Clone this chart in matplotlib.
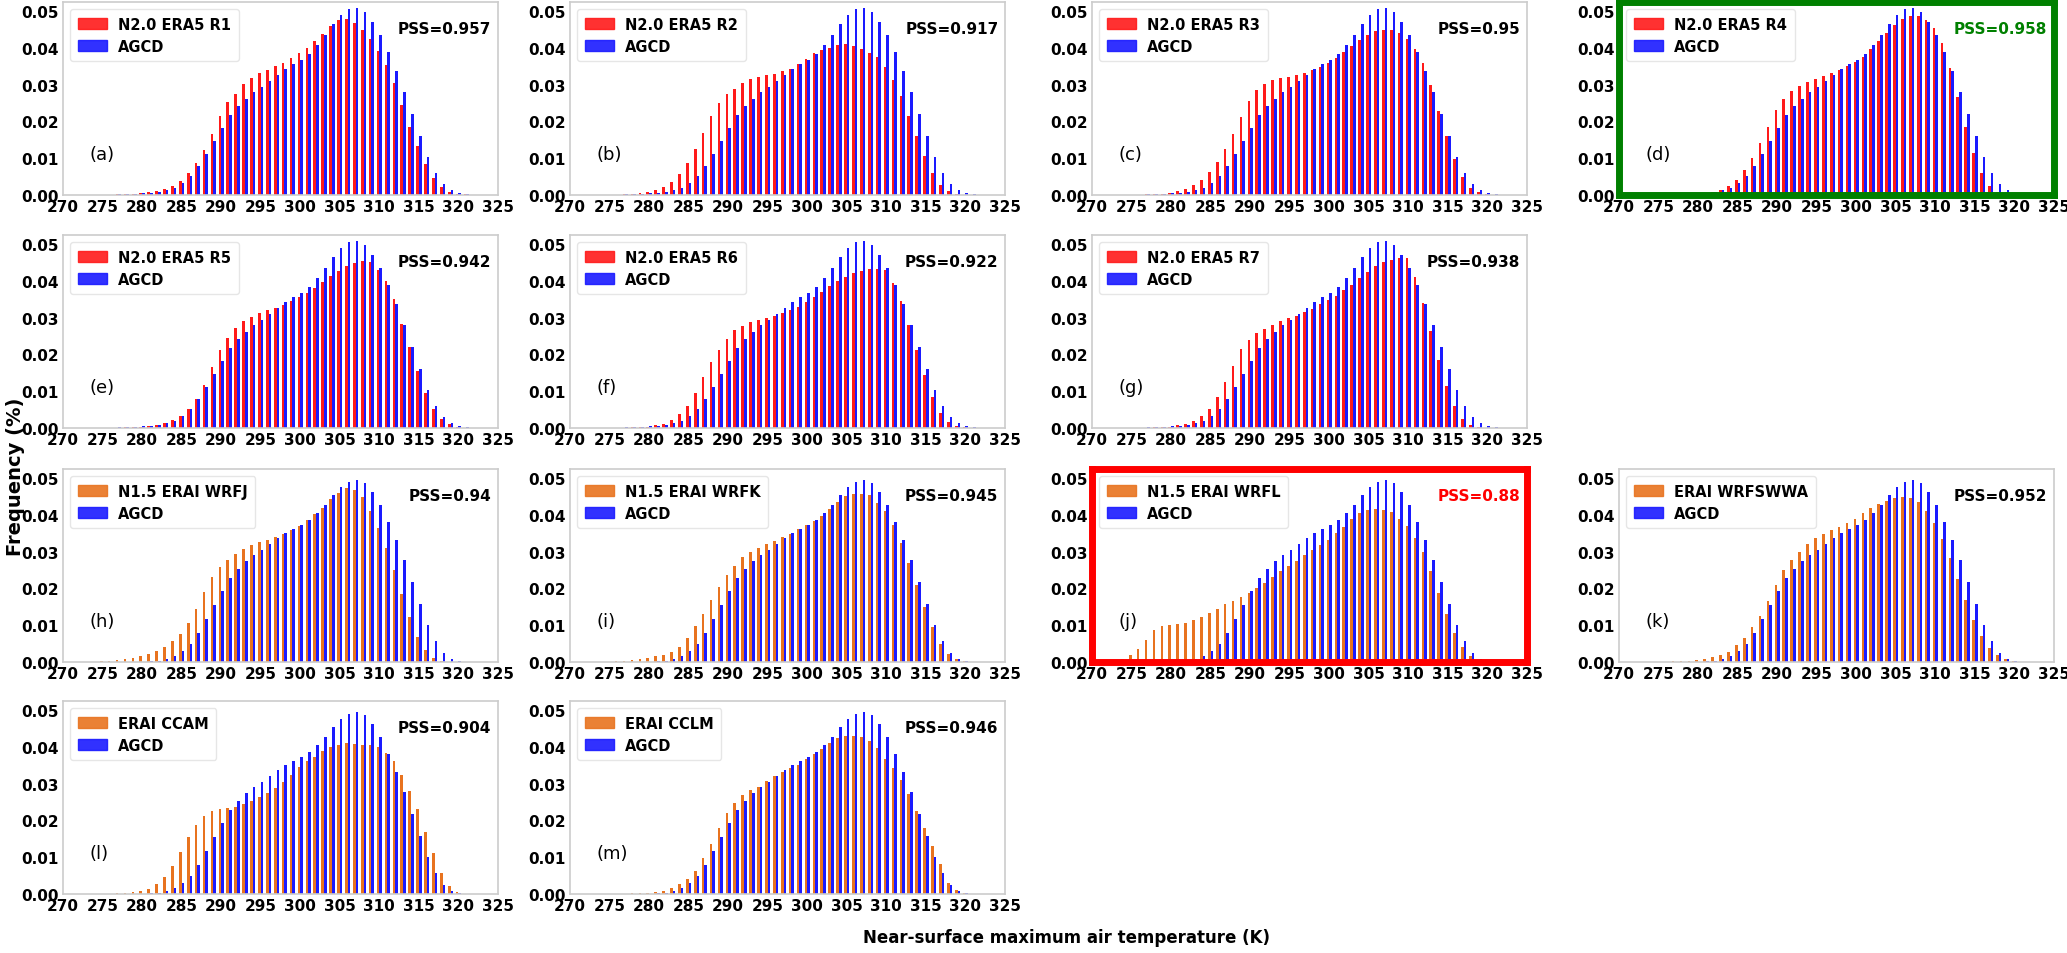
import numpy as np
import matplotlib
matplotlib.use("Agg")
import matplotlib.pyplot as plt
from matplotlib.patches import Patch

# ---------------- data (frequency per 1 K bin, bins centred on 273..321 K) ----------------
temps = list(range(273, 322))

agcd_era5 = [0, 0, 0, 0.0001, 0.0002, 0.0003, 0.0004,
             0.0005, 0.0006, 0.0009, 0.0013, 0.002, 0.0033, 0.0051, 0.0078, 0.0112, 0.0148,
             0.0183, 0.0217, 0.0242, 0.0262, 0.028, 0.0294, 0.0311, 0.0326, 0.0342, 0.0355,
             0.0368, 0.0384, 0.0408, 0.0435, 0.0464, 0.049, 0.0505, 0.051, 0.0498, 0.0471,
             0.0435, 0.0389, 0.0336, 0.0281, 0.0221, 0.016, 0.0103, 0.0059, 0.0029, 0.0013,
             0.0005, 0.0002]

agcd_erai = [0, 0, 0, 0, 0, 0, 0,
             0.0001, 0.0002, 0.0004, 0.0009, 0.0017, 0.0031, 0.005, 0.008, 0.0116, 0.0156,
             0.0193, 0.0229, 0.0254, 0.0275, 0.0292, 0.0306, 0.0322, 0.0336, 0.035, 0.0363,
             0.0374, 0.0386, 0.0405, 0.0428, 0.0454, 0.0475, 0.049, 0.0495, 0.0487, 0.0462,
             0.0427, 0.0382, 0.0332, 0.0277, 0.0217, 0.0157, 0.0102, 0.0056, 0.0025, 0.0007,
             0.0002, 0]

era5_r1 = [0, 0, 0, 0.0001, 0.0002, 0.0003, 0.0004,
           0.0005, 0.0007, 0.001, 0.0016, 0.0025, 0.0039, 0.006, 0.0088, 0.0123, 0.0167,
           0.0214, 0.0253, 0.0276, 0.0301, 0.0317, 0.0331, 0.034, 0.035, 0.036, 0.0373,
           0.0387, 0.0401, 0.0418, 0.0437, 0.0459, 0.0475, 0.0478, 0.0468, 0.0448, 0.0423,
           0.0392, 0.0353, 0.0304, 0.0246, 0.0186, 0.0132, 0.0084, 0.0047, 0.0021, 0.0009,
           0.0004, 0.0002]

era5_r2 = [0, 0, 0, 0.0001, 0.0002, 0.0003, 0.0005,
           0.0007, 0.0013, 0.0022, 0.0035, 0.0057, 0.0087, 0.0125, 0.017, 0.0215, 0.025,
           0.0275, 0.0288, 0.0305, 0.0315, 0.032, 0.0327, 0.033, 0.0336, 0.0343, 0.0355,
           0.037, 0.0385, 0.0395, 0.0401, 0.0408, 0.041, 0.0405, 0.0398, 0.0387, 0.0375,
           0.0348, 0.0312, 0.0268, 0.0215, 0.016, 0.0105, 0.006, 0.0028, 0.0012, 0.0004,
           0.0001, 0]

era5_r3 = [0, 0, 0, 0.0001, 0.0002, 0.0003, 0.0004,
           0.0006, 0.001, 0.0016, 0.0026, 0.004, 0.0062, 0.009, 0.0125, 0.0165, 0.0212,
           0.0255, 0.0285, 0.0302, 0.0312, 0.0318, 0.0322, 0.0327, 0.0333, 0.034, 0.0348,
           0.0358, 0.0372, 0.0388, 0.0405, 0.0422, 0.0435, 0.0445, 0.0449, 0.0449, 0.0442,
           0.0425, 0.0398, 0.0358, 0.0298, 0.0228, 0.016, 0.0098, 0.0048, 0.002, 0.0007,
           0.0002, 0]

era5_r4 = [0, 0, 0, 0, 0, 0, 0.0001,
           0.0002, 0.0003, 0.0007, 0.0013, 0.0025, 0.0042, 0.0067, 0.01, 0.0141, 0.0186,
           0.023, 0.0262, 0.0282, 0.0297, 0.0307, 0.0316, 0.0323, 0.0332, 0.034, 0.035,
           0.0362, 0.0376, 0.0398, 0.042, 0.0441, 0.0463, 0.0479, 0.0488, 0.0488, 0.0477,
           0.0454, 0.0414, 0.0346, 0.0267, 0.0186, 0.0114, 0.0059, 0.0025, 0.0008, 0.0002,
           0, 0]

era5_r5 = [0, 0, 0, 0.0001, 0.0001, 0.0002, 0.0003,
           0.0004, 0.0006, 0.0009, 0.0014, 0.0021, 0.0033, 0.0052, 0.008, 0.0118, 0.0165,
           0.0213, 0.0245, 0.0272, 0.029, 0.0303, 0.0312, 0.032, 0.0327, 0.0335, 0.0345,
           0.0356, 0.0368, 0.0382, 0.0398, 0.0414, 0.0428, 0.044, 0.0448, 0.0455, 0.0452,
           0.043, 0.04, 0.0352, 0.0284, 0.022, 0.0155, 0.0095, 0.0052, 0.0025, 0.001,
           0.0003, 0.0001]

era5_r6 = [0, 0, 0, 0.0001, 0.0001, 0.0002, 0.0003,
           0.0004, 0.0007, 0.0012, 0.0022, 0.0037, 0.006, 0.0095, 0.0138, 0.018, 0.0213,
           0.0243, 0.0266, 0.0278, 0.0289, 0.0295, 0.03, 0.0305, 0.0312, 0.032, 0.033,
           0.0342, 0.0355, 0.037, 0.0385, 0.04, 0.0412, 0.0421, 0.0428, 0.0432, 0.0432,
           0.043, 0.0395, 0.0345, 0.028, 0.0212, 0.0145, 0.0085, 0.0042, 0.0016, 0.0005,
           0.0002, 0]

era5_r7 = [0, 0, 0, 0.0001, 0.0001, 0.0002, 0.0003,
           0.0004, 0.0007, 0.0012, 0.002, 0.0033, 0.0052, 0.0085, 0.0125, 0.017, 0.0215,
           0.024, 0.0258, 0.027, 0.028, 0.029, 0.0298, 0.0306, 0.0315, 0.0325, 0.0336,
           0.0348, 0.036, 0.0375, 0.039, 0.0407, 0.0425, 0.044, 0.0452, 0.0458, 0.0462,
           0.0463, 0.041, 0.034, 0.0263, 0.0185, 0.0115, 0.006, 0.0025, 0.0008, 0.0002,
           0, 0]

erai_wrfj = [0, 0, 0.0002, 0.0003, 0.0005, 0.0008, 0.0012,
             0.0017, 0.0023, 0.0031, 0.0042, 0.0056, 0.0076, 0.0105, 0.0145, 0.019, 0.0232,
             0.0258, 0.0278, 0.0295, 0.0308, 0.0318, 0.0326, 0.0333, 0.034, 0.0348, 0.0358,
             0.037, 0.0385, 0.0402, 0.042, 0.0443, 0.046, 0.0472, 0.0468, 0.0448, 0.0412,
             0.0365, 0.031, 0.025, 0.0185, 0.0122, 0.0068, 0.0032, 0.0012, 0.0004, 0.0001,
             0, 0]

erai_wrfk = [0, 0, 0.0001, 0.0002, 0.0003, 0.0005, 0.0008,
             0.0011, 0.0015, 0.002, 0.0028, 0.0042, 0.0065, 0.0097, 0.0131, 0.0169, 0.0205,
             0.0236, 0.0262, 0.0286, 0.03, 0.031, 0.0322, 0.033, 0.034, 0.0349, 0.0361,
             0.0372, 0.0384, 0.0397, 0.0417, 0.0435, 0.0451, 0.0458, 0.0458, 0.0453, 0.0433,
             0.041, 0.0372, 0.0325, 0.0268, 0.021, 0.015, 0.0095, 0.005, 0.0022, 0.0009,
             0.0003, 0.0001]

erai_wrfl = [0, 0.0008, 0.0018, 0.0036, 0.0061, 0.0087, 0.0099,
             0.0101, 0.0103, 0.0107, 0.0113, 0.0122, 0.0133, 0.0145, 0.0157, 0.0167, 0.0177,
             0.0188, 0.0201, 0.0216, 0.0232, 0.0248, 0.0261, 0.0276, 0.0291, 0.0304, 0.0318,
             0.0333, 0.0351, 0.0367, 0.0388, 0.0406, 0.0414, 0.0416, 0.0414, 0.0408, 0.039,
             0.037, 0.0338, 0.0298, 0.0247, 0.0189, 0.0131, 0.008, 0.004, 0.0015, 0.0003,
             0, 0]

erai_wrfswwa = [0, 0, 0, 0.0001, 0.0002, 0.0003, 0.0004,
                0.0006, 0.0009, 0.0013, 0.0019, 0.0028, 0.0045, 0.0066, 0.0094, 0.0126, 0.0165,
                0.021, 0.025, 0.0278, 0.03, 0.032, 0.0336, 0.0349, 0.0358, 0.0367, 0.0378,
                0.039, 0.0405, 0.0419, 0.0431, 0.0439, 0.0445, 0.0448, 0.0445, 0.0434, 0.0412,
                0.0379, 0.0335, 0.0283, 0.0225, 0.0168, 0.0115, 0.0071, 0.0038, 0.0018, 0.0007,
                0.0002, 0]

erai_ccam = [0, 0, 0, 0.0001, 0.0002, 0.0003, 0.0005,
             0.0008, 0.0014, 0.0026, 0.0046, 0.0077, 0.0115, 0.0154, 0.0188, 0.0213, 0.0227,
             0.0231, 0.0234, 0.0236, 0.0245, 0.0252, 0.0263, 0.0274, 0.0289, 0.0306, 0.0325,
             0.0345, 0.0361, 0.0374, 0.0388, 0.04, 0.0406, 0.041, 0.0409, 0.0404, 0.0404,
             0.04, 0.0384, 0.0361, 0.0325, 0.0281, 0.023, 0.017, 0.0111, 0.0058, 0.0022,
             0.0006, 0.0001]

erai_cclm = [0, 0, 0, 0.0001, 0.0001, 0.0002, 0.0003,
             0.0004, 0.0006, 0.0008, 0.0015, 0.0026, 0.004, 0.0063, 0.0097, 0.0136, 0.0179,
             0.0219, 0.0248, 0.027, 0.0283, 0.0292, 0.0307, 0.032, 0.0332, 0.0342, 0.0352,
             0.0366, 0.038, 0.0395, 0.0411, 0.0423, 0.0429, 0.043, 0.0427, 0.0416, 0.0398,
             0.0368, 0.0343, 0.0311, 0.0272, 0.0227, 0.0179, 0.0131, 0.0081, 0.0029, 0.001,
             0.0003, 0]

panel_letters = ["(a)", "(b)", "(c)", "(d)", "(e)", "(f)", "(g)",
                 "(h)", "(i)", "(j)", "(k)", "(l)", "(m)"]
model_names = ["N2.0 ERA5 R1", "N2.0 ERA5 R2", "N2.0 ERA5 R3", "N2.0 ERA5 R4",
               "N2.0 ERA5 R5", "N2.0 ERA5 R6", "N2.0 ERA5 R7",
               "N1.5 ERAI WRFJ", "N1.5 ERAI WRFK", "N1.5 ERAI WRFL", "ERAI WRFSWWA",
               "ERAI CCAM", "ERAI CCLM"]
model_series = [era5_r1, era5_r2, era5_r3, era5_r4, era5_r5, era5_r6, era5_r7,
                erai_wrfj, erai_wrfk, erai_wrfl, erai_wrfswwa, erai_ccam, erai_cclm]
obs_series = [agcd_era5] * 7 + [agcd_erai] * 6
pss_values = ["0.957", "0.917", "0.95", "0.958", "0.942", "0.922", "0.938",
              "0.94", "0.945", "0.88", "0.952", "0.904", "0.946"]
grid_pos = [(0, 0), (0, 1), (0, 2), (0, 3),
            (1, 0), (1, 1), (1, 2),
            (2, 0), (2, 1), (2, 2), (2, 3),
            (3, 0), (3, 1)]
xticks = list(range(270, 326, 5))
yticks = [0.00, 0.01, 0.02, 0.03, 0.04, 0.05]

RED = "#ff1a1a"
BLUE = "#1a1aff"
ORANGE = "#e8731f"

# ---------------- figure ----------------
W, H = 2067, 954
fig = plt.figure(figsize=(W / 100, H / 100), dpi=100)
plt.rcParams['font.family'] = ['DejaVu Sans']

col_left = [63, 570, 1092, 1619]
row_top = [3, 236, 470, 702]
ax_w, ax_h = 435, 193

t = np.array(temps)
bw = 0.33

for i, (r, c) in enumerate(grid_pos):
    left = col_left[c] / W
    bottom = (H - row_top[r] - ax_h) / H
    ax = fig.add_axes([left, bottom, ax_w / W, ax_h / H])
    mcol = RED if i < 7 else ORANGE
    ax.bar(t - bw / 2, model_series[i], width=bw, color=mcol, linewidth=0)
    ax.bar(t + bw / 2, obs_series[i], width=bw, color=BLUE, linewidth=0)
    ax.set_xlim(270, 325)
    ax.set_ylim(0, 0.0525)
    ax.set_xticks(xticks)
    ax.set_yticks(yticks)
    ax.set_xticklabels([str(v) for v in xticks], fontsize=11, fontweight='bold')
    ax.set_yticklabels([f"{v:.2f}" for v in yticks], fontsize=11, fontweight='bold')
    ax.tick_params(length=0, pad=3)

    pss_col = 'black'
    spine_col, spine_lw = '#cccccc', 1.2
    if i == 3:
        pss_col = 'green'
        spine_col, spine_lw = 'green', 5
    elif i == 9:
        pss_col = 'red'
        spine_col, spine_lw = 'red', 5
    for s in ax.spines.values():
        s.set_color(spine_col)
        s.set_linewidth(spine_lw)

    handles = [Patch(facecolor=mcol, edgecolor=mcol, alpha=0.9),
               Patch(facecolor=BLUE, edgecolor=BLUE, alpha=0.9)]
    ax.legend(handles, [model_names[i], "AGCD"], loc='upper left',
              prop={'weight': 'bold', 'size': 10.5}, handlelength=2.0,
              handleheight=0.8, labelspacing=0.5, borderpad=0.5,
              frameon=True, edgecolor='#e6e6e6', framealpha=1.0,
              bbox_to_anchor=(0.0, 1.0), borderaxespad=0.5)
    ax.text(0.985, 0.865, "PSS=" + pss_values[i], transform=ax.transAxes,
            ha='right', va='center', fontsize=11, fontweight='bold', color=pss_col)
    ax.text(0.06, 0.21, panel_letters[i], transform=ax.transAxes,
            ha='left', va='center', fontsize=13)

fig.text(0.003, 0.5, "Frequency (%)", rotation=90, ha='left', va='center',
         fontsize=14, fontweight='bold')
fig.text(0.516, 0.017, "Near-surface maximum air temperature (K)", ha='center',
         va='center', fontsize=12, fontweight='bold')

fig.savefig("out.png", dpi=100)
